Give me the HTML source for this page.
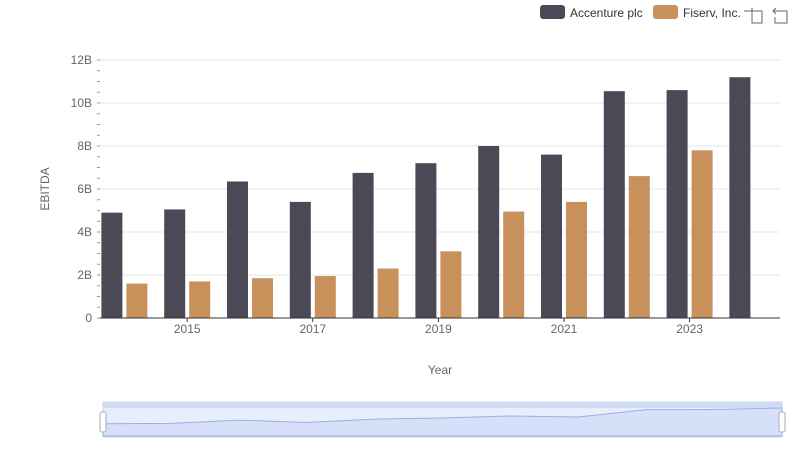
<!DOCTYPE html>
<html><head><meta charset="utf-8"><style>
body{margin:0;background:#fff;font-family:"Liberation Sans",sans-serif;}
svg text{font-family:"Liberation Sans",sans-serif;}
</style></head><body>
<svg width="800" height="461" id="c">
<g>
<rect x="540" y="5" width="25" height="14" rx="3" fill="#4a4955"/>
<text x="570" y="17" font-size="12" fill="#333">Accenture plc</text>
<rect x="653" y="5" width="25" height="14" rx="3" fill="#c8905a"/>
<text x="683" y="17" font-size="12" fill="#333">Fiserv, Inc.</text>
<g stroke="#666" fill="none"><path d="M748 11h14v12h-10V8M744 11h4"/></g>
<g stroke="#666" fill="none"><path d="M776 8l-3 3 3 3M773 11h14v12h-12v-6"/></g>
</g>
<text transform="translate(49,189) rotate(-90)" text-anchor="middle" font-size="12" fill="#666">EBITDA</text>
<text x="440" y="374" text-anchor="middle" font-size="12" fill="#666">Year</text>
<g id="grid"></g><g id="bars"></g><g id="axes"></g>
<g>
<rect x="103" y="402" width="679" height="35" fill="#e8eefb" stroke="#cdd6ea"/>
<rect x="103" y="402" width="679" height="6" fill="#cfdaf5"/>
<path id="mini" fill="#d6e1f9" stroke="#9bb0e0" stroke-width="1"/>
<rect x="100" y="412" width="6" height="20" rx="2" fill="#fff" stroke="#aab"/>
<rect x="779" y="412" width="6" height="20" rx="2" fill="#fff" stroke="#aab"/>
</g>
</svg>
<script>
const years=[2014,2015,2016,2017,2018,2019,2020,2021,2022,2023,2024];
const accenture=[4.9,5.05,6.35,5.4,6.75,7.2,8.0,7.6,10.55,10.6,11.2];
const fiserv=[1.6,1.7,1.85,1.95,2.3,3.1,4.95,5.4,6.6,7.8,null];
const yTicks=[0,2,4,6,8,10,12];
const yTickLabels=["0","2B","4B","6B","8B","10B","12B"];
const NS="http://www.w3.org/2000/svg";
const x0=93,cw=62.8,y0=318,ppu=21.5;
const xc=i=>x0+cw*(i+0.5), y=v=>y0-v*ppu;
function mk(t,a,p){const e=document.createElementNS(NS,t);for(const k in a)e.setAttribute(k,a[k]);p.appendChild(e);return e;}
const grid=document.getElementById('grid'),bars=document.getElementById('bars'),axes=document.getElementById('axes');
yTicks.forEach((v,i)=>{
 if(v>0){const l=mk('line',{x1:100,x2:780,y1:y(v),y2:y(v),stroke:'#e6e6e6'},grid);
 }
 const t=mk('text',{x:92,y:y(v)+4,'text-anchor':'end','font-size':12,fill:'#666'},axes);t.textContent=yTickLabels[i];
 
});
for(let v=0;v<=12;v+=0.5){const m=mk('line',{x1:97,x2:100,y1:y(v),y2:y(v),stroke:'#999'},axes);
 }
const ax=mk('line',{x1:100,x2:780,y1:y0,y2:y0,stroke:'#333'},axes);

years.forEach((yr,i)=>{
 if(accenture[i]!=null){const r=mk('rect',{x:xc(i)-23,y:y(accenture[i]),width:21,height:accenture[i]*ppu,fill:'#4a4955'},bars);
 }
 if(fiserv[i]!=null){const r=mk('rect',{x:xc(i)+2,y:y(fiserv[i]),width:21,height:fiserv[i]*ppu,fill:'#c8905a'},bars);
 }
 if(yr%2==1){const t=mk('text',{x:xc(i),y:333,'text-anchor':'middle','font-size':12,fill:'#666'},axes);t.textContent=yr;
 
 const tk=mk('line',{x1:xc(i),x2:xc(i),y1:y0,y2:y0+4,stroke:'#333'},axes);
 }
});
const mx=i=>103+679*i/(years.length-1), my=v=>436-v/12*30;
let d='M103 436';accenture.forEach((v,i)=>d+=' L'+mx(i)+' '+my(v));d+=' L782 436Z';
document.getElementById('mini').setAttribute('d',d);
</script>
</body></html>
